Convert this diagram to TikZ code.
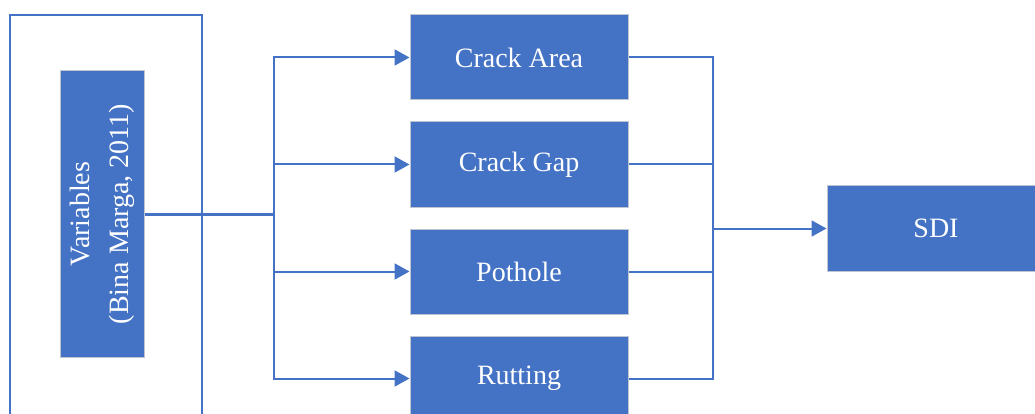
\documentclass[tikz,border=0pt]{standalone}
\usepackage{fontspec}
\setmainfont{Liberation Serif}
\usepackage{xcolor}
\usetikzlibrary{positioning,arrows.meta}
\definecolor{officeblue}{HTML}{4472C4}
\definecolor{edgegray}{HTML}{BFC5D0}

\begin{document}
\begin{tikzpicture}[x=1pt,y=-1pt,
  box/.style={fill=officeblue,draw=edgegray,line width=1pt,text=white,
    minimum width=218pt,minimum height=85pt,inner sep=0pt,
    font=\fontsize{28}{39}\selectfont},
  link/.style={draw=officeblue,line width=2pt},
  arr/.style={link,-{Triangle[length=15pt,width=16pt]}}]
\clip (0,0) rectangle (1035,414);
% frame round the variables
\draw[officeblue,line width=1.6pt] (10,440) -- (10,15) -- (202,15) -- (202,440);
\node[box,rotate=90,minimum width=286pt,minimum height=84pt,align=center] (var) at (102,214) {Variables\\(Bina Marga, 2011)};
\node[box] (ca) at (519,57.5) {Crack Area};
\node[box] (cg) at (519,164.5) {Crack Gap};
\node[box] (ph) at (519,271.5) {Pothole};
\node[box] (ru) at (519,378.5) {Rutting};
\node[box] (sdi) at (936,228.5) {SDI};
\coordinate (busL) at (274,214);
\coordinate (busR) at (713,228.5);
\draw[link,line width=3pt] (var.south) -- (busL);
\draw[arr] (busL) |- (ca.west);
\draw[arr] (busL) |- (cg.west);
\draw[arr] (busL) |- (ph.west);
\draw[arr] (busL) |- (ru.west);
\draw[link] (ca.east) -| (busR);
\draw[link] (cg.east) -| (busR);
\draw[link] (ph.east) -| (busR);
\draw[link] (ru.east) -| (busR);
\draw[arr] (busR) -- (sdi.west);
\end{tikzpicture}
\end{document}
